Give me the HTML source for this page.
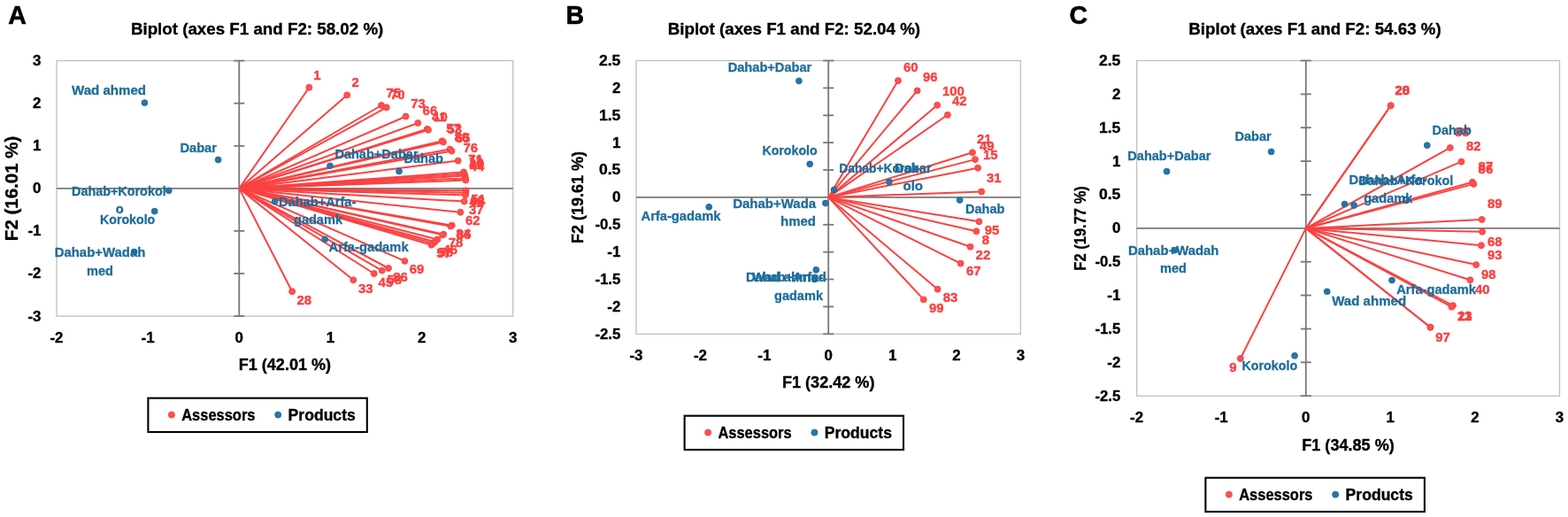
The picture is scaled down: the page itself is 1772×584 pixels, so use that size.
<!DOCTYPE html>
<html lang="en"><head><meta charset="utf-8"><title>Biplots</title>
<style>html,body{margin:0;padding:0;background:#fff}body{width:1772px;height:584px;overflow:hidden}svg{display:block}text{font-family:'Liberation Sans', sans-serif;font-weight:bold}</style>
</head><body>
<svg width="1772" height="584" viewBox="0 0 1772 584">
<rect width="1772" height="584" fill="#fff"/>
<g>
<text x="9.2" y="26.7" font-size="29.0" fill="#000" stroke="#000" stroke-width="0.6" text-anchor="start" textLength="20.6" lengthAdjust="spacingAndGlyphs">A</text>
<text x="290.6" y="38.6" font-size="18.9" fill="#000" stroke="#000" stroke-width="0.35" text-anchor="middle" textLength="285.4" lengthAdjust="spacingAndGlyphs">Biplot (axes F1 and F2: 58.02 %)</text>
<rect x="64.0" y="68.6" width="515.7" height="288.5" fill="#fff" stroke="#bfbfbf" stroke-width="1.3"/>
<g stroke="#787878" stroke-width="1.8" fill="none">
<line x1="64.0" y1="212.9" x2="579.7" y2="212.9"/>
<line x1="270.3" y1="68.6" x2="270.3" y2="357.1"/>
<line x1="264.3" y1="68.6" x2="276.3" y2="68.6"/>
<line x1="264.3" y1="116.7" x2="276.3" y2="116.7"/>
<line x1="264.3" y1="164.8" x2="276.3" y2="164.8"/>
<line x1="264.3" y1="260.9" x2="276.3" y2="260.9"/>
<line x1="264.3" y1="309.0" x2="276.3" y2="309.0"/>
<line x1="264.3" y1="357.1" x2="276.3" y2="357.1"/>
</g>
<text x="46.4" y="74.0" font-size="16.4" fill="#000" stroke="#000" stroke-width="0.35" text-anchor="end" textLength="9.4" lengthAdjust="spacingAndGlyphs">3</text>
<text x="46.4" y="122.1" font-size="16.4" fill="#000" stroke="#000" stroke-width="0.35" text-anchor="end" textLength="9.4" lengthAdjust="spacingAndGlyphs">2</text>
<text x="46.4" y="170.2" font-size="16.4" fill="#000" stroke="#000" stroke-width="0.35" text-anchor="end" textLength="9.4" lengthAdjust="spacingAndGlyphs">1</text>
<text x="46.4" y="218.3" font-size="16.4" fill="#000" stroke="#000" stroke-width="0.35" text-anchor="end" textLength="9.4" lengthAdjust="spacingAndGlyphs">0</text>
<text x="46.4" y="266.3" font-size="16.4" fill="#000" stroke="#000" stroke-width="0.35" text-anchor="end" textLength="15.0" lengthAdjust="spacingAndGlyphs">-1</text>
<text x="46.4" y="314.4" font-size="16.4" fill="#000" stroke="#000" stroke-width="0.35" text-anchor="end" textLength="15.0" lengthAdjust="spacingAndGlyphs">-2</text>
<text x="46.4" y="362.5" font-size="16.4" fill="#000" stroke="#000" stroke-width="0.35" text-anchor="end" textLength="15.0" lengthAdjust="spacingAndGlyphs">-3</text>
<text x="64.0" y="387.0" font-size="16.4" fill="#000" stroke="#000" stroke-width="0.35" text-anchor="middle" textLength="15.0" lengthAdjust="spacingAndGlyphs">-2</text>
<text x="167.1" y="387.0" font-size="16.4" fill="#000" stroke="#000" stroke-width="0.35" text-anchor="middle" textLength="15.0" lengthAdjust="spacingAndGlyphs">-1</text>
<text x="270.3" y="387.0" font-size="16.4" fill="#000" stroke="#000" stroke-width="0.35" text-anchor="middle" textLength="9.4" lengthAdjust="spacingAndGlyphs">0</text>
<text x="373.4" y="387.0" font-size="16.4" fill="#000" stroke="#000" stroke-width="0.35" text-anchor="middle" textLength="9.4" lengthAdjust="spacingAndGlyphs">1</text>
<text x="476.6" y="387.0" font-size="16.4" fill="#000" stroke="#000" stroke-width="0.35" text-anchor="middle" textLength="9.4" lengthAdjust="spacingAndGlyphs">2</text>
<text x="579.7" y="387.0" font-size="16.4" fill="#000" stroke="#000" stroke-width="0.35" text-anchor="middle" textLength="9.4" lengthAdjust="spacingAndGlyphs">3</text>
<text x="321.9" y="418.3" font-size="18.2" fill="#000" stroke="#000" stroke-width="0.35" text-anchor="middle" textLength="104.5" lengthAdjust="spacingAndGlyphs">F1 (42.01 %)</text>
<text x="19.8" y="212.9" font-size="19.6" fill="#000" stroke="#000" stroke-width="0.35" text-anchor="middle" textLength="118.5" lengthAdjust="spacingAndGlyphs" transform="rotate(-90 19.8 212.9)">F2 (16.01 %)</text>
<g stroke="#fb4242" stroke-width="2.0" stroke-linecap="round">
<line x1="270.3" y1="212.9" x2="349.4" y2="98.8"/>
<line x1="270.3" y1="212.9" x2="392.2" y2="107.4"/>
<line x1="270.3" y1="212.9" x2="431.0" y2="119.0"/>
<line x1="270.3" y1="212.9" x2="436.8" y2="121.4"/>
<line x1="270.3" y1="212.9" x2="458.6" y2="131.5"/>
<line x1="270.3" y1="212.9" x2="472.3" y2="139.0"/>
<line x1="270.3" y1="212.9" x2="482.8" y2="145.8"/>
<line x1="270.3" y1="212.9" x2="484.0" y2="146.8"/>
<line x1="270.3" y1="212.9" x2="499.6" y2="159.3"/>
<line x1="270.3" y1="212.9" x2="501.0" y2="160.4"/>
<line x1="270.3" y1="212.9" x2="508.5" y2="168.6"/>
<line x1="270.3" y1="212.9" x2="510.5" y2="170.6"/>
<line x1="270.3" y1="212.9" x2="517.7" y2="181.6"/>
<line x1="270.3" y1="212.9" x2="524.0" y2="194.4"/>
<line x1="270.3" y1="212.9" x2="524.8" y2="196.6"/>
<line x1="270.3" y1="212.9" x2="525.4" y2="198.6"/>
<line x1="270.3" y1="212.9" x2="526.0" y2="201.4"/>
<line x1="270.3" y1="212.9" x2="526.4" y2="203.6"/>
<line x1="270.3" y1="212.9" x2="526.6" y2="215.3"/>
<line x1="270.3" y1="212.9" x2="526.4" y2="217.8"/>
<line x1="270.3" y1="212.9" x2="526.0" y2="220.4"/>
<line x1="270.3" y1="212.9" x2="524.7" y2="227.5"/>
<line x1="270.3" y1="212.9" x2="520.3" y2="239.8"/>
<line x1="270.3" y1="212.9" x2="510.8" y2="254.6"/>
<line x1="270.3" y1="212.9" x2="509.2" y2="255.6"/>
<line x1="270.3" y1="212.9" x2="501.2" y2="264.7"/>
<line x1="270.3" y1="212.9" x2="500.2" y2="265.4"/>
<line x1="270.3" y1="212.9" x2="494.4" y2="270.5"/>
<line x1="270.3" y1="212.9" x2="491.6" y2="273.3"/>
<line x1="270.3" y1="212.9" x2="489.4" y2="275.0"/>
<line x1="270.3" y1="212.9" x2="487.5" y2="276.7"/>
<line x1="270.3" y1="212.9" x2="457.4" y2="294.9"/>
<line x1="270.3" y1="212.9" x2="439.0" y2="303.0"/>
<line x1="270.3" y1="212.9" x2="431.7" y2="305.6"/>
<line x1="270.3" y1="212.9" x2="422.7" y2="309.0"/>
<line x1="270.3" y1="212.9" x2="399.3" y2="316.3"/>
<line x1="270.3" y1="212.9" x2="330.1" y2="329.3"/>
</g>
<g fill="#fd5050" stroke="#fb4242" stroke-width="1">
<circle cx="349.4" cy="98.8" r="3.45"/>
<circle cx="392.2" cy="107.4" r="3.45"/>
<circle cx="431.0" cy="119.0" r="3.45"/>
<circle cx="436.8" cy="121.4" r="3.45"/>
<circle cx="458.6" cy="131.5" r="3.45"/>
<circle cx="472.3" cy="139.0" r="3.45"/>
<circle cx="482.8" cy="145.8" r="3.45"/>
<circle cx="484.0" cy="146.8" r="3.45"/>
<circle cx="499.6" cy="159.3" r="3.45"/>
<circle cx="501.0" cy="160.4" r="3.45"/>
<circle cx="508.5" cy="168.6" r="3.45"/>
<circle cx="510.5" cy="170.6" r="3.45"/>
<circle cx="517.7" cy="181.6" r="3.45"/>
<circle cx="524.0" cy="194.4" r="3.45"/>
<circle cx="524.8" cy="196.6" r="3.45"/>
<circle cx="525.4" cy="198.6" r="3.45"/>
<circle cx="526.0" cy="201.4" r="3.45"/>
<circle cx="526.4" cy="203.6" r="3.45"/>
<circle cx="526.6" cy="215.3" r="3.45"/>
<circle cx="526.4" cy="217.8" r="3.45"/>
<circle cx="526.0" cy="220.4" r="3.45"/>
<circle cx="524.7" cy="227.5" r="3.45"/>
<circle cx="520.3" cy="239.8" r="3.45"/>
<circle cx="510.8" cy="254.6" r="3.45"/>
<circle cx="509.2" cy="255.6" r="3.45"/>
<circle cx="501.2" cy="264.7" r="3.45"/>
<circle cx="500.2" cy="265.4" r="3.45"/>
<circle cx="494.4" cy="270.5" r="3.45"/>
<circle cx="491.6" cy="273.3" r="3.45"/>
<circle cx="489.4" cy="275.0" r="3.45"/>
<circle cx="487.5" cy="276.7" r="3.45"/>
<circle cx="457.4" cy="294.9" r="3.45"/>
<circle cx="439.0" cy="303.0" r="3.45"/>
<circle cx="431.7" cy="305.6" r="3.45"/>
<circle cx="422.7" cy="309.0" r="3.45"/>
<circle cx="399.3" cy="316.3" r="3.45"/>
<circle cx="330.1" cy="329.3" r="3.45"/>
</g>
<g fill="#2776a8" stroke="#1e6c99" stroke-width="1">
<circle cx="163.4" cy="116.1" r="3.4"/>
<circle cx="246.6" cy="180.5" r="3.4"/>
<circle cx="190.8" cy="215.3" r="3.4"/>
<circle cx="174.7" cy="238.6" r="3.4"/>
<circle cx="151.7" cy="284.5" r="3.4"/>
<circle cx="373.0" cy="187.3" r="3.4"/>
<circle cx="451.0" cy="193.5" r="3.4"/>
<circle cx="310.6" cy="227.7" r="3.4"/>
<circle cx="367.1" cy="270.4" r="3.4"/>
</g>
<text x="354.3" y="89.6" font-size="15.2" fill="#fc3f3f" stroke="#fc3f3f" stroke-width="0.4" text-anchor="start" textLength="8.3" lengthAdjust="spacingAndGlyphs">1</text>
<text x="397.6" y="98.1" font-size="15.2" fill="#fc3f3f" stroke="#fc3f3f" stroke-width="0.4" text-anchor="start" textLength="8.3" lengthAdjust="spacingAndGlyphs">2</text>
<text x="436.5" y="110.4" font-size="15.2" fill="#fc3f3f" stroke="#fc3f3f" stroke-width="0.4" text-anchor="start" textLength="16.6" lengthAdjust="spacingAndGlyphs">75</text>
<text x="441.0" y="112.1" font-size="15.2" fill="#fc3f3f" stroke="#fc3f3f" stroke-width="0.4" text-anchor="start" textLength="16.6" lengthAdjust="spacingAndGlyphs">70</text>
<text x="464.2" y="122.4" font-size="15.2" fill="#fc3f3f" stroke="#fc3f3f" stroke-width="0.4" text-anchor="start" textLength="16.6" lengthAdjust="spacingAndGlyphs">73</text>
<text x="477.6" y="129.7" font-size="15.2" fill="#fc3f3f" stroke="#fc3f3f" stroke-width="0.4" text-anchor="start" textLength="16.6" lengthAdjust="spacingAndGlyphs">66</text>
<text x="488.0" y="137.1" font-size="15.2" fill="#fc3f3f" stroke="#fc3f3f" stroke-width="0.4" text-anchor="start" textLength="16.6" lengthAdjust="spacingAndGlyphs">41</text>
<text x="489.3" y="137.4" font-size="15.2" fill="#fc3f3f" stroke="#fc3f3f" stroke-width="0.4" text-anchor="start" textLength="16.6" lengthAdjust="spacingAndGlyphs">10</text>
<text x="504.2" y="149.7" font-size="15.2" fill="#fc3f3f" stroke="#fc3f3f" stroke-width="0.4" text-anchor="start" textLength="16.6" lengthAdjust="spacingAndGlyphs">57</text>
<text x="505.4" y="150.8" font-size="15.2" fill="#fc3f3f" stroke="#fc3f3f" stroke-width="0.4" text-anchor="start" textLength="16.6" lengthAdjust="spacingAndGlyphs">53</text>
<text x="513.4" y="159.7" font-size="15.2" fill="#fc3f3f" stroke="#fc3f3f" stroke-width="0.4" text-anchor="start" textLength="16.6" lengthAdjust="spacingAndGlyphs">80</text>
<text x="514.8" y="161.4" font-size="15.2" fill="#fc3f3f" stroke="#fc3f3f" stroke-width="0.4" text-anchor="start" textLength="16.6" lengthAdjust="spacingAndGlyphs">65</text>
<text x="523.4" y="172.0" font-size="15.2" fill="#fc3f3f" stroke="#fc3f3f" stroke-width="0.4" text-anchor="start" textLength="16.6" lengthAdjust="spacingAndGlyphs">76</text>
<text x="529.2" y="184.6" font-size="15.2" fill="#fc3f3f" stroke="#fc3f3f" stroke-width="0.4" text-anchor="start" textLength="16.6" lengthAdjust="spacingAndGlyphs">71</text>
<text x="529.8" y="186.6" font-size="15.2" fill="#fc3f3f" stroke="#fc3f3f" stroke-width="0.4" text-anchor="start" textLength="16.6" lengthAdjust="spacingAndGlyphs">11</text>
<text x="530.2" y="188.8" font-size="15.2" fill="#fc3f3f" stroke="#fc3f3f" stroke-width="0.4" text-anchor="start" textLength="16.6" lengthAdjust="spacingAndGlyphs">19</text>
<text x="530.6" y="190.8" font-size="15.2" fill="#fc3f3f" stroke="#fc3f3f" stroke-width="0.4" text-anchor="start" textLength="16.6" lengthAdjust="spacingAndGlyphs">49</text>
<text x="530.8" y="193.0" font-size="15.2" fill="#fc3f3f" stroke="#fc3f3f" stroke-width="0.4" text-anchor="start" textLength="16.6" lengthAdjust="spacingAndGlyphs">44</text>
<text x="532.2" y="229.8" font-size="15.2" fill="#fc3f3f" stroke="#fc3f3f" stroke-width="0.4" text-anchor="start" textLength="16.6" lengthAdjust="spacingAndGlyphs">51</text>
<text x="531.2" y="231.6" font-size="15.2" fill="#fc3f3f" stroke="#fc3f3f" stroke-width="0.4" text-anchor="start" textLength="16.6" lengthAdjust="spacingAndGlyphs">68</text>
<text x="530.6" y="232.8" font-size="15.2" fill="#fc3f3f" stroke="#fc3f3f" stroke-width="0.4" text-anchor="start" textLength="16.6" lengthAdjust="spacingAndGlyphs">48</text>
<text x="530.0" y="241.9" font-size="15.2" fill="#fc3f3f" stroke="#fc3f3f" stroke-width="0.4" text-anchor="start" textLength="16.6" lengthAdjust="spacingAndGlyphs">37</text>
<text x="526.0" y="254.3" font-size="15.2" fill="#fc3f3f" stroke="#fc3f3f" stroke-width="0.4" text-anchor="start" textLength="16.6" lengthAdjust="spacingAndGlyphs">62</text>
<text x="515.2" y="268.6" font-size="15.2" fill="#fc3f3f" stroke="#fc3f3f" stroke-width="0.4" text-anchor="start" textLength="16.6" lengthAdjust="spacingAndGlyphs">84</text>
<text x="516.0" y="270.0" font-size="15.2" fill="#fc3f3f" stroke="#fc3f3f" stroke-width="0.4" text-anchor="start" textLength="16.6" lengthAdjust="spacingAndGlyphs">85</text>
<text x="506.8" y="278.8" font-size="15.2" fill="#fc3f3f" stroke="#fc3f3f" stroke-width="0.4" text-anchor="start" textLength="16.6" lengthAdjust="spacingAndGlyphs">78</text>
<text x="500.5" y="287.0" font-size="15.2" fill="#fc3f3f" stroke="#fc3f3f" stroke-width="0.4" text-anchor="start" textLength="16.6" lengthAdjust="spacingAndGlyphs">46</text>
<text x="495.5" y="289.5" font-size="15.2" fill="#fc3f3f" stroke="#fc3f3f" stroke-width="0.4" text-anchor="start" textLength="16.6" lengthAdjust="spacingAndGlyphs">56</text>
<text x="493.2" y="291.1" font-size="15.2" fill="#fc3f3f" stroke="#fc3f3f" stroke-width="0.4" text-anchor="start" textLength="16.6" lengthAdjust="spacingAndGlyphs">57</text>
<text x="462.8" y="309.4" font-size="15.2" fill="#fc3f3f" stroke="#fc3f3f" stroke-width="0.4" text-anchor="start" textLength="16.6" lengthAdjust="spacingAndGlyphs">69</text>
<text x="444.3" y="317.5" font-size="15.2" fill="#fc3f3f" stroke="#fc3f3f" stroke-width="0.4" text-anchor="start" textLength="16.6" lengthAdjust="spacingAndGlyphs">86</text>
<text x="437.5" y="320.5" font-size="15.2" fill="#fc3f3f" stroke="#fc3f3f" stroke-width="0.4" text-anchor="start" textLength="16.6" lengthAdjust="spacingAndGlyphs">58</text>
<text x="427.6" y="323.5" font-size="15.2" fill="#fc3f3f" stroke="#fc3f3f" stroke-width="0.4" text-anchor="start" textLength="16.6" lengthAdjust="spacingAndGlyphs">45</text>
<text x="405.0" y="331.0" font-size="15.2" fill="#fc3f3f" stroke="#fc3f3f" stroke-width="0.4" text-anchor="start" textLength="16.6" lengthAdjust="spacingAndGlyphs">33</text>
<text x="335.5" y="343.8" font-size="15.2" fill="#fc3f3f" stroke="#fc3f3f" stroke-width="0.4" text-anchor="start" textLength="16.6" lengthAdjust="spacingAndGlyphs">28</text>
<text x="81.0" y="106.6" font-size="15.0" fill="#1e6c99" stroke="#1e6c99" stroke-width="0.3" text-anchor="start" textLength="84.0" lengthAdjust="spacingAndGlyphs">Wad ahmed</text>
<text x="203.4" y="171.6" font-size="15.0" fill="#1e6c99" stroke="#1e6c99" stroke-width="0.3" text-anchor="start" textLength="41.6" lengthAdjust="spacingAndGlyphs">Dabar</text>
<text x="81.0" y="220.6" font-size="15.0" fill="#1e6c99" stroke="#1e6c99" stroke-width="0.3" text-anchor="start" textLength="106.7" lengthAdjust="spacingAndGlyphs">Dahab+Korokol</text>
<text x="130.8" y="240.7" font-size="15.0" fill="#1e6c99" stroke="#1e6c99" stroke-width="0.3" text-anchor="start" textLength="9.0" lengthAdjust="spacingAndGlyphs">o</text>
<text x="113.0" y="253.1" font-size="15.0" fill="#1e6c99" stroke="#1e6c99" stroke-width="0.3" text-anchor="start" textLength="62.3" lengthAdjust="spacingAndGlyphs">Korokolo</text>
<text x="61.7" y="289.6" font-size="15.0" fill="#1e6c99" stroke="#1e6c99" stroke-width="0.3" text-anchor="start" textLength="102.6" lengthAdjust="spacingAndGlyphs">Dahab+Wadah</text>
<text x="98.0" y="310.7" font-size="15.0" fill="#1e6c99" stroke="#1e6c99" stroke-width="0.3" text-anchor="start" textLength="30.0" lengthAdjust="spacingAndGlyphs">med</text>
<text x="378.4" y="178.5" font-size="15.0" fill="#1e6c99" stroke="#1e6c99" stroke-width="0.3" text-anchor="start" textLength="94.2" lengthAdjust="spacingAndGlyphs">Dahab+Dabar</text>
<text x="456.5" y="184.3" font-size="15.0" fill="#1e6c99" stroke="#1e6c99" stroke-width="0.3" text-anchor="start" textLength="44.5" lengthAdjust="spacingAndGlyphs">Dahab</text>
<text x="315.0" y="232.6" font-size="15.0" fill="#1e6c99" stroke="#1e6c99" stroke-width="0.3" text-anchor="start" textLength="87.3" lengthAdjust="spacingAndGlyphs">Dahab+Arfa-</text>
<text x="332.0" y="253.1" font-size="15.0" fill="#1e6c99" stroke="#1e6c99" stroke-width="0.3" text-anchor="start" textLength="55.0" lengthAdjust="spacingAndGlyphs">gadamk</text>
<text x="371.6" y="283.9" font-size="15.0" fill="#1e6c99" stroke="#1e6c99" stroke-width="0.3" text-anchor="start" textLength="90.0" lengthAdjust="spacingAndGlyphs">Arfa-gadamk</text>
<rect x="167.4" y="449.7" width="247.4" height="38.3" fill="#fff" stroke="#000" stroke-width="2.1"/>
<circle cx="193.9" cy="468.6" r="3.5" fill="#fd5050" stroke="#fb4242" stroke-width="1"/>
<text x="205.2" y="474.8" font-size="18.4" fill="#000" stroke="#000" stroke-width="0.35" text-anchor="start" textLength="83.3" lengthAdjust="spacingAndGlyphs">Assessors</text>
<circle cx="314.2" cy="468.6" r="3.5" fill="#2776a8" stroke="#1e6c99" stroke-width="1"/>
<text x="325.6" y="474.8" font-size="18.4" fill="#000" stroke="#000" stroke-width="0.35" text-anchor="start" textLength="76.2" lengthAdjust="spacingAndGlyphs">Products</text>
</g>
<g>
<text x="639.6" y="26.7" font-size="29.0" fill="#000" stroke="#000" stroke-width="0.6" text-anchor="start" textLength="20.6" lengthAdjust="spacingAndGlyphs">B</text>
<text x="897.4" y="38.6" font-size="18.9" fill="#000" stroke="#000" stroke-width="0.35" text-anchor="middle" textLength="285.4" lengthAdjust="spacingAndGlyphs">Biplot (axes F1 and F2: 52.04 %)</text>
<rect x="719.0" y="68.5" width="434.4" height="308.8" fill="#fff" stroke="#bfbfbf" stroke-width="1.3"/>
<g stroke="#787878" stroke-width="1.8" fill="none">
<line x1="719.0" y1="222.9" x2="1153.4" y2="222.9"/>
<line x1="936.2" y1="68.5" x2="936.2" y2="377.3"/>
<line x1="930.2" y1="68.5" x2="942.2" y2="68.5"/>
<line x1="930.2" y1="99.4" x2="942.2" y2="99.4"/>
<line x1="930.2" y1="130.3" x2="942.2" y2="130.3"/>
<line x1="930.2" y1="161.1" x2="942.2" y2="161.1"/>
<line x1="930.2" y1="192.0" x2="942.2" y2="192.0"/>
<line x1="930.2" y1="253.8" x2="942.2" y2="253.8"/>
<line x1="930.2" y1="284.7" x2="942.2" y2="284.7"/>
<line x1="930.2" y1="315.5" x2="942.2" y2="315.5"/>
<line x1="930.2" y1="346.4" x2="942.2" y2="346.4"/>
<line x1="930.2" y1="377.3" x2="942.2" y2="377.3"/>
</g>
<text x="701.3" y="73.9" font-size="16.4" fill="#000" stroke="#000" stroke-width="0.35" text-anchor="end" textLength="24.4" lengthAdjust="spacingAndGlyphs">2.5</text>
<text x="701.3" y="104.8" font-size="16.4" fill="#000" stroke="#000" stroke-width="0.35" text-anchor="end" textLength="9.4" lengthAdjust="spacingAndGlyphs">2</text>
<text x="701.3" y="135.7" font-size="16.4" fill="#000" stroke="#000" stroke-width="0.35" text-anchor="end" textLength="24.4" lengthAdjust="spacingAndGlyphs">1.5</text>
<text x="701.3" y="166.5" font-size="16.4" fill="#000" stroke="#000" stroke-width="0.35" text-anchor="end" textLength="9.4" lengthAdjust="spacingAndGlyphs">1</text>
<text x="701.3" y="197.4" font-size="16.4" fill="#000" stroke="#000" stroke-width="0.35" text-anchor="end" textLength="24.4" lengthAdjust="spacingAndGlyphs">0.5</text>
<text x="701.3" y="228.3" font-size="16.4" fill="#000" stroke="#000" stroke-width="0.35" text-anchor="end" textLength="9.4" lengthAdjust="spacingAndGlyphs">0</text>
<text x="701.3" y="259.2" font-size="16.4" fill="#000" stroke="#000" stroke-width="0.35" text-anchor="end" textLength="28.8" lengthAdjust="spacingAndGlyphs">-0.5</text>
<text x="701.3" y="290.1" font-size="16.4" fill="#000" stroke="#000" stroke-width="0.35" text-anchor="end" textLength="15.0" lengthAdjust="spacingAndGlyphs">-1</text>
<text x="701.3" y="320.9" font-size="16.4" fill="#000" stroke="#000" stroke-width="0.35" text-anchor="end" textLength="28.8" lengthAdjust="spacingAndGlyphs">-1.5</text>
<text x="701.3" y="351.8" font-size="16.4" fill="#000" stroke="#000" stroke-width="0.35" text-anchor="end" textLength="15.0" lengthAdjust="spacingAndGlyphs">-2</text>
<text x="701.3" y="382.7" font-size="16.4" fill="#000" stroke="#000" stroke-width="0.35" text-anchor="end" textLength="28.8" lengthAdjust="spacingAndGlyphs">-2.5</text>
<text x="719.0" y="407.0" font-size="16.4" fill="#000" stroke="#000" stroke-width="0.35" text-anchor="middle" textLength="15.0" lengthAdjust="spacingAndGlyphs">-3</text>
<text x="791.4" y="407.0" font-size="16.4" fill="#000" stroke="#000" stroke-width="0.35" text-anchor="middle" textLength="15.0" lengthAdjust="spacingAndGlyphs">-2</text>
<text x="863.8" y="407.0" font-size="16.4" fill="#000" stroke="#000" stroke-width="0.35" text-anchor="middle" textLength="15.0" lengthAdjust="spacingAndGlyphs">-1</text>
<text x="936.2" y="407.0" font-size="16.4" fill="#000" stroke="#000" stroke-width="0.35" text-anchor="middle" textLength="9.4" lengthAdjust="spacingAndGlyphs">0</text>
<text x="1008.6" y="407.0" font-size="16.4" fill="#000" stroke="#000" stroke-width="0.35" text-anchor="middle" textLength="9.4" lengthAdjust="spacingAndGlyphs">1</text>
<text x="1081.0" y="407.0" font-size="16.4" fill="#000" stroke="#000" stroke-width="0.35" text-anchor="middle" textLength="9.4" lengthAdjust="spacingAndGlyphs">2</text>
<text x="1153.4" y="407.0" font-size="16.4" fill="#000" stroke="#000" stroke-width="0.35" text-anchor="middle" textLength="9.4" lengthAdjust="spacingAndGlyphs">3</text>
<text x="936.2" y="438.4" font-size="18.2" fill="#000" stroke="#000" stroke-width="0.35" text-anchor="middle" textLength="104.5" lengthAdjust="spacingAndGlyphs">F1 (32.42 %)</text>
<text x="659.4" y="222.9" font-size="18.2" fill="#000" stroke="#000" stroke-width="0.35" text-anchor="middle" textLength="104.0" lengthAdjust="spacingAndGlyphs" transform="rotate(-90 659.4 222.9)">F2 (19.61 %)</text>
<g stroke="#fb4242" stroke-width="2.0" stroke-linecap="round">
<line x1="936.2" y1="222.9" x2="1015.0" y2="91.1"/>
<line x1="936.2" y1="222.9" x2="1036.6" y2="102.4"/>
<line x1="936.2" y1="222.9" x2="1059.2" y2="118.8"/>
<line x1="936.2" y1="222.9" x2="1070.9" y2="129.8"/>
<line x1="936.2" y1="222.9" x2="1099.0" y2="172.3"/>
<line x1="936.2" y1="222.9" x2="1102.0" y2="180.1"/>
<line x1="936.2" y1="222.9" x2="1105.1" y2="189.7"/>
<line x1="936.2" y1="222.9" x2="1109.2" y2="216.4"/>
<line x1="936.2" y1="222.9" x2="1106.5" y2="250.3"/>
<line x1="936.2" y1="222.9" x2="1103.4" y2="261.3"/>
<line x1="936.2" y1="222.9" x2="1096.6" y2="278.8"/>
<line x1="936.2" y1="222.9" x2="1085.6" y2="297.6"/>
<line x1="936.2" y1="222.9" x2="1059.6" y2="326.7"/>
<line x1="936.2" y1="222.9" x2="1043.8" y2="338.4"/>
</g>
<g fill="#fd5050" stroke="#fb4242" stroke-width="1">
<circle cx="1015.0" cy="91.1" r="3.45"/>
<circle cx="1036.6" cy="102.4" r="3.45"/>
<circle cx="1059.2" cy="118.8" r="3.45"/>
<circle cx="1070.9" cy="129.8" r="3.45"/>
<circle cx="1099.0" cy="172.3" r="3.45"/>
<circle cx="1102.0" cy="180.1" r="3.45"/>
<circle cx="1105.1" cy="189.7" r="3.45"/>
<circle cx="1109.2" cy="216.4" r="3.45"/>
<circle cx="1106.5" cy="250.3" r="3.45"/>
<circle cx="1103.4" cy="261.3" r="3.45"/>
<circle cx="1096.6" cy="278.8" r="3.45"/>
<circle cx="1085.6" cy="297.6" r="3.45"/>
<circle cx="1059.6" cy="326.7" r="3.45"/>
<circle cx="1043.8" cy="338.4" r="3.45"/>
</g>
<g fill="#2776a8" stroke="#1e6c99" stroke-width="1">
<circle cx="902.9" cy="91.4" r="3.4"/>
<circle cx="915.2" cy="185.3" r="3.4"/>
<circle cx="942.5" cy="214.4" r="3.4"/>
<circle cx="1004.8" cy="205.5" r="3.4"/>
<circle cx="932.9" cy="229.5" r="3.4"/>
<circle cx="801.2" cy="233.8" r="3.4"/>
<circle cx="922.3" cy="304.8" r="3.4"/>
<circle cx="920.5" cy="315.5" r="3.4"/>
<circle cx="1084.6" cy="226.0" r="3.4"/>
</g>
<text x="1021.0" y="81.1" font-size="15.2" fill="#fc3f3f" stroke="#fc3f3f" stroke-width="0.4" text-anchor="start" textLength="16.6" lengthAdjust="spacingAndGlyphs">60</text>
<text x="1043.0" y="92.1" font-size="15.2" fill="#fc3f3f" stroke="#fc3f3f" stroke-width="0.4" text-anchor="start" textLength="16.6" lengthAdjust="spacingAndGlyphs">96</text>
<text x="1065.0" y="108.1" font-size="15.2" fill="#fc3f3f" stroke="#fc3f3f" stroke-width="0.4" text-anchor="start" textLength="24.9" lengthAdjust="spacingAndGlyphs">100</text>
<text x="1076.0" y="119.1" font-size="15.2" fill="#fc3f3f" stroke="#fc3f3f" stroke-width="0.4" text-anchor="start" textLength="16.6" lengthAdjust="spacingAndGlyphs">42</text>
<text x="1104.0" y="162.1" font-size="15.2" fill="#fc3f3f" stroke="#fc3f3f" stroke-width="0.4" text-anchor="start" textLength="16.6" lengthAdjust="spacingAndGlyphs">21</text>
<text x="1107.0" y="170.1" font-size="15.2" fill="#fc3f3f" stroke="#fc3f3f" stroke-width="0.4" text-anchor="start" textLength="16.6" lengthAdjust="spacingAndGlyphs">49</text>
<text x="1111.0" y="180.1" font-size="15.2" fill="#fc3f3f" stroke="#fc3f3f" stroke-width="0.4" text-anchor="start" textLength="16.6" lengthAdjust="spacingAndGlyphs">15</text>
<text x="1115.0" y="206.1" font-size="15.2" fill="#fc3f3f" stroke="#fc3f3f" stroke-width="0.4" text-anchor="start" textLength="16.6" lengthAdjust="spacingAndGlyphs">31</text>
<text x="1112.8" y="264.6" font-size="15.2" fill="#fc3f3f" stroke="#fc3f3f" stroke-width="0.4" text-anchor="start" textLength="16.6" lengthAdjust="spacingAndGlyphs">95</text>
<text x="1109.8" y="275.6" font-size="15.2" fill="#fc3f3f" stroke="#fc3f3f" stroke-width="0.4" text-anchor="start" textLength="8.3" lengthAdjust="spacingAndGlyphs">8</text>
<text x="1102.6" y="293.3" font-size="15.2" fill="#fc3f3f" stroke="#fc3f3f" stroke-width="0.4" text-anchor="start" textLength="16.6" lengthAdjust="spacingAndGlyphs">22</text>
<text x="1092.0" y="311.3" font-size="15.2" fill="#fc3f3f" stroke="#fc3f3f" stroke-width="0.4" text-anchor="start" textLength="16.6" lengthAdjust="spacingAndGlyphs">67</text>
<text x="1065.7" y="340.9" font-size="15.2" fill="#fc3f3f" stroke="#fc3f3f" stroke-width="0.4" text-anchor="start" textLength="16.6" lengthAdjust="spacingAndGlyphs">83</text>
<text x="1050.0" y="352.9" font-size="15.2" fill="#fc3f3f" stroke="#fc3f3f" stroke-width="0.4" text-anchor="start" textLength="16.6" lengthAdjust="spacingAndGlyphs">99</text>
<text x="822.7" y="80.9" font-size="15.0" fill="#1e6c99" stroke="#1e6c99" stroke-width="0.3" text-anchor="start" textLength="94.6" lengthAdjust="spacingAndGlyphs">Dahab+Dabar</text>
<text x="861.4" y="175.1" font-size="15.0" fill="#1e6c99" stroke="#1e6c99" stroke-width="0.3" text-anchor="start" textLength="62.3" lengthAdjust="spacingAndGlyphs">Korokolo</text>
<text x="948.3" y="194.6" font-size="15.0" fill="#1e6c99" stroke="#1e6c99" stroke-width="0.3" text-anchor="start" textLength="90.0" lengthAdjust="spacingAndGlyphs">Dahab+Korok</text>
<text x="1020.5" y="214.7" font-size="15.0" fill="#1e6c99" stroke="#1e6c99" stroke-width="0.3" text-anchor="start" textLength="22.5" lengthAdjust="spacingAndGlyphs">olo</text>
<text x="1011.0" y="194.6" font-size="15.0" fill="#1e6c99" stroke="#1e6c99" stroke-width="0.3" text-anchor="start" textLength="41.7" lengthAdjust="spacingAndGlyphs">Dabar</text>
<text x="828.2" y="234.9" font-size="15.0" fill="#1e6c99" stroke="#1e6c99" stroke-width="0.3" text-anchor="start" textLength="94.0" lengthAdjust="spacingAndGlyphs">Dahab+Wada</text>
<text x="882.0" y="254.8" font-size="15.0" fill="#1e6c99" stroke="#1e6c99" stroke-width="0.3" text-anchor="start" textLength="40.0" lengthAdjust="spacingAndGlyphs">hmed</text>
<text x="724.5" y="248.6" font-size="15.0" fill="#1e6c99" stroke="#1e6c99" stroke-width="0.3" text-anchor="start" textLength="90.0" lengthAdjust="spacingAndGlyphs">Arfa-gadamk</text>
<text x="843.0" y="317.6" font-size="15.0" fill="#1e6c99" stroke="#1e6c99" stroke-width="0.3" text-anchor="start" textLength="87.3" lengthAdjust="spacingAndGlyphs">Dahab+Arfa-</text>
<text x="875.0" y="339.3" font-size="15.0" fill="#1e6c99" stroke="#1e6c99" stroke-width="0.3" text-anchor="start" textLength="55.0" lengthAdjust="spacingAndGlyphs">gadamk</text>
<text x="850.3" y="318.1" font-size="15.0" fill="#1e6c99" stroke="#1e6c99" stroke-width="0.3" text-anchor="start" textLength="83.6" lengthAdjust="spacingAndGlyphs">Wad ahmed</text>
<text x="1091.0" y="240.6" font-size="15.0" fill="#1e6c99" stroke="#1e6c99" stroke-width="0.3" text-anchor="start" textLength="44.5" lengthAdjust="spacingAndGlyphs">Dahab</text>
<rect x="773.6" y="469.7" width="247.4" height="38.3" fill="#fff" stroke="#000" stroke-width="2.1"/>
<circle cx="800.1" cy="488.6" r="3.5" fill="#fd5050" stroke="#fb4242" stroke-width="1"/>
<text x="811.4" y="494.8" font-size="18.4" fill="#000" stroke="#000" stroke-width="0.35" text-anchor="start" textLength="83.3" lengthAdjust="spacingAndGlyphs">Assessors</text>
<circle cx="920.4" cy="488.6" r="3.5" fill="#2776a8" stroke="#1e6c99" stroke-width="1"/>
<text x="931.8" y="494.8" font-size="18.4" fill="#000" stroke="#000" stroke-width="0.35" text-anchor="start" textLength="76.2" lengthAdjust="spacingAndGlyphs">Products</text>
</g>
<g>
<text x="1208.6" y="26.7" font-size="29.0" fill="#000" stroke="#000" stroke-width="0.6" text-anchor="start" textLength="20.6" lengthAdjust="spacingAndGlyphs">C</text>
<text x="1486.0" y="38.6" font-size="18.9" fill="#000" stroke="#000" stroke-width="0.35" text-anchor="middle" textLength="285.4" lengthAdjust="spacingAndGlyphs">Biplot (axes F1 and F2: 54.63 %)</text>
<rect x="1284.6" y="68.5" width="477.9" height="378.7" fill="#fff" stroke="#bfbfbf" stroke-width="1.3"/>
<g stroke="#787878" stroke-width="1.8" fill="none">
<line x1="1284.6" y1="257.9" x2="1762.5" y2="257.9"/>
<line x1="1475.8" y1="68.5" x2="1475.8" y2="447.2"/>
<line x1="1469.8" y1="68.5" x2="1481.8" y2="68.5"/>
<line x1="1469.8" y1="106.4" x2="1481.8" y2="106.4"/>
<line x1="1469.8" y1="144.2" x2="1481.8" y2="144.2"/>
<line x1="1469.8" y1="182.1" x2="1481.8" y2="182.1"/>
<line x1="1469.8" y1="220.0" x2="1481.8" y2="220.0"/>
<line x1="1469.8" y1="295.7" x2="1481.8" y2="295.7"/>
<line x1="1469.8" y1="333.6" x2="1481.8" y2="333.6"/>
<line x1="1469.8" y1="371.5" x2="1481.8" y2="371.5"/>
<line x1="1469.8" y1="409.3" x2="1481.8" y2="409.3"/>
<line x1="1469.8" y1="447.2" x2="1481.8" y2="447.2"/>
</g>
<text x="1266.3" y="73.9" font-size="16.4" fill="#000" stroke="#000" stroke-width="0.35" text-anchor="end" textLength="24.4" lengthAdjust="spacingAndGlyphs">2.5</text>
<text x="1266.3" y="111.8" font-size="16.4" fill="#000" stroke="#000" stroke-width="0.35" text-anchor="end" textLength="9.4" lengthAdjust="spacingAndGlyphs">2</text>
<text x="1266.3" y="149.6" font-size="16.4" fill="#000" stroke="#000" stroke-width="0.35" text-anchor="end" textLength="24.4" lengthAdjust="spacingAndGlyphs">1.5</text>
<text x="1266.3" y="187.5" font-size="16.4" fill="#000" stroke="#000" stroke-width="0.35" text-anchor="end" textLength="9.4" lengthAdjust="spacingAndGlyphs">1</text>
<text x="1266.3" y="225.4" font-size="16.4" fill="#000" stroke="#000" stroke-width="0.35" text-anchor="end" textLength="24.4" lengthAdjust="spacingAndGlyphs">0.5</text>
<text x="1266.3" y="263.2" font-size="16.4" fill="#000" stroke="#000" stroke-width="0.35" text-anchor="end" textLength="9.4" lengthAdjust="spacingAndGlyphs">0</text>
<text x="1266.3" y="301.1" font-size="16.4" fill="#000" stroke="#000" stroke-width="0.35" text-anchor="end" textLength="28.8" lengthAdjust="spacingAndGlyphs">-0.5</text>
<text x="1266.3" y="339.0" font-size="16.4" fill="#000" stroke="#000" stroke-width="0.35" text-anchor="end" textLength="15.0" lengthAdjust="spacingAndGlyphs">-1</text>
<text x="1266.3" y="376.9" font-size="16.4" fill="#000" stroke="#000" stroke-width="0.35" text-anchor="end" textLength="28.8" lengthAdjust="spacingAndGlyphs">-1.5</text>
<text x="1266.3" y="414.7" font-size="16.4" fill="#000" stroke="#000" stroke-width="0.35" text-anchor="end" textLength="15.0" lengthAdjust="spacingAndGlyphs">-2</text>
<text x="1266.3" y="452.6" font-size="16.4" fill="#000" stroke="#000" stroke-width="0.35" text-anchor="end" textLength="28.8" lengthAdjust="spacingAndGlyphs">-2.5</text>
<text x="1284.6" y="477.0" font-size="16.4" fill="#000" stroke="#000" stroke-width="0.35" text-anchor="middle" textLength="15.0" lengthAdjust="spacingAndGlyphs">-2</text>
<text x="1380.2" y="477.0" font-size="16.4" fill="#000" stroke="#000" stroke-width="0.35" text-anchor="middle" textLength="15.0" lengthAdjust="spacingAndGlyphs">-1</text>
<text x="1475.8" y="477.0" font-size="16.4" fill="#000" stroke="#000" stroke-width="0.35" text-anchor="middle" textLength="9.4" lengthAdjust="spacingAndGlyphs">0</text>
<text x="1571.3" y="477.0" font-size="16.4" fill="#000" stroke="#000" stroke-width="0.35" text-anchor="middle" textLength="9.4" lengthAdjust="spacingAndGlyphs">1</text>
<text x="1666.9" y="477.0" font-size="16.4" fill="#000" stroke="#000" stroke-width="0.35" text-anchor="middle" textLength="9.4" lengthAdjust="spacingAndGlyphs">2</text>
<text x="1762.5" y="477.0" font-size="16.4" fill="#000" stroke="#000" stroke-width="0.35" text-anchor="middle" textLength="9.4" lengthAdjust="spacingAndGlyphs">3</text>
<text x="1523.5" y="508.5" font-size="18.2" fill="#000" stroke="#000" stroke-width="0.35" text-anchor="middle" textLength="104.5" lengthAdjust="spacingAndGlyphs">F1 (34.85 %)</text>
<text x="1226.6" y="257.9" font-size="17.8" fill="#000" stroke="#000" stroke-width="0.35" text-anchor="middle" textLength="95.5" lengthAdjust="spacingAndGlyphs" transform="rotate(-90 1226.6 257.9)">F2 (19.77 %)</text>
<g stroke="#fb4242" stroke-width="2.0" stroke-linecap="round">
<line x1="1475.8" y1="257.9" x2="1571.7" y2="119.3"/>
<line x1="1475.8" y1="257.9" x2="1571.7" y2="119.3"/>
<line x1="1475.8" y1="257.9" x2="1638.8" y2="166.9"/>
<line x1="1475.8" y1="257.9" x2="1651.5" y2="182.7"/>
<line x1="1475.8" y1="257.9" x2="1664.0" y2="205.8"/>
<line x1="1475.8" y1="257.9" x2="1665.4" y2="207.9"/>
<line x1="1475.8" y1="257.9" x2="1674.7" y2="248.0"/>
<line x1="1475.8" y1="257.9" x2="1675.1" y2="261.8"/>
<line x1="1475.8" y1="257.9" x2="1674.0" y2="277.2"/>
<line x1="1475.8" y1="257.9" x2="1668.2" y2="299.1"/>
<line x1="1475.8" y1="257.9" x2="1661.4" y2="316.3"/>
<line x1="1475.8" y1="257.9" x2="1642.0" y2="345.1"/>
<line x1="1475.8" y1="257.9" x2="1640.4" y2="346.7"/>
<line x1="1475.8" y1="257.9" x2="1616.5" y2="369.7"/>
<line x1="1475.8" y1="257.9" x2="1616.5" y2="369.7"/>
<line x1="1475.8" y1="257.9" x2="1401.8" y2="405.0"/>
</g>
<g fill="#fd5050" stroke="#fb4242" stroke-width="1">
<circle cx="1571.7" cy="119.3" r="3.45"/>
<circle cx="1571.7" cy="119.3" r="3.45"/>
<circle cx="1638.8" cy="166.9" r="3.45"/>
<circle cx="1651.5" cy="182.7" r="3.45"/>
<circle cx="1664.0" cy="205.8" r="3.45"/>
<circle cx="1665.4" cy="207.9" r="3.45"/>
<circle cx="1674.7" cy="248.0" r="3.45"/>
<circle cx="1675.1" cy="261.8" r="3.45"/>
<circle cx="1674.0" cy="277.2" r="3.45"/>
<circle cx="1668.2" cy="299.1" r="3.45"/>
<circle cx="1661.4" cy="316.3" r="3.45"/>
<circle cx="1642.0" cy="345.1" r="3.45"/>
<circle cx="1640.4" cy="346.7" r="3.45"/>
<circle cx="1616.5" cy="369.7" r="3.45"/>
<circle cx="1616.5" cy="369.7" r="3.45"/>
<circle cx="1401.8" cy="405.0" r="3.45"/>
</g>
<g fill="#2776a8" stroke="#1e6c99" stroke-width="1">
<circle cx="1318.5" cy="193.7" r="3.4"/>
<circle cx="1436.6" cy="171.4" r="3.4"/>
<circle cx="1612.8" cy="164.2" r="3.4"/>
<circle cx="1519.6" cy="230.6" r="3.4"/>
<circle cx="1530.2" cy="232.0" r="3.4"/>
<circle cx="1327.4" cy="282.7" r="3.4"/>
<circle cx="1573.0" cy="316.6" r="3.4"/>
<circle cx="1499.7" cy="329.3" r="3.4"/>
<circle cx="1463.1" cy="401.8" r="3.4"/>
</g>
<text x="1576.5" y="106.7" font-size="15.2" fill="#fc3f3f" stroke="#fc3f3f" stroke-width="0.4" text-anchor="start" textLength="16.6" lengthAdjust="spacingAndGlyphs">20</text>
<text x="1576.5" y="106.7" font-size="15.2" fill="#fc3f3f" stroke="#fc3f3f" stroke-width="0.4" text-anchor="start" textLength="16.6" lengthAdjust="spacingAndGlyphs">28</text>
<text x="1644.0" y="154.0" font-size="15.2" fill="#fc3f3f" stroke="#fc3f3f" stroke-width="0.4" text-anchor="start" textLength="16.6" lengthAdjust="spacingAndGlyphs">88</text>
<text x="1657.0" y="170.2" font-size="15.2" fill="#fc3f3f" stroke="#fc3f3f" stroke-width="0.4" text-anchor="start" textLength="16.6" lengthAdjust="spacingAndGlyphs">82</text>
<text x="1670.6" y="193.2" font-size="15.2" fill="#fc3f3f" stroke="#fc3f3f" stroke-width="0.4" text-anchor="start" textLength="16.6" lengthAdjust="spacingAndGlyphs">87</text>
<text x="1670.6" y="196.4" font-size="15.2" fill="#fc3f3f" stroke="#fc3f3f" stroke-width="0.4" text-anchor="start" textLength="16.6" lengthAdjust="spacingAndGlyphs">86</text>
<text x="1681.0" y="235.2" font-size="15.2" fill="#fc3f3f" stroke="#fc3f3f" stroke-width="0.4" text-anchor="start" textLength="16.6" lengthAdjust="spacingAndGlyphs">89</text>
<text x="1681.0" y="278.2" font-size="15.2" fill="#fc3f3f" stroke="#fc3f3f" stroke-width="0.4" text-anchor="start" textLength="16.6" lengthAdjust="spacingAndGlyphs">68</text>
<text x="1681.0" y="292.7" font-size="15.2" fill="#fc3f3f" stroke="#fc3f3f" stroke-width="0.4" text-anchor="start" textLength="16.6" lengthAdjust="spacingAndGlyphs">93</text>
<text x="1674.0" y="314.9" font-size="15.2" fill="#fc3f3f" stroke="#fc3f3f" stroke-width="0.4" text-anchor="start" textLength="16.6" lengthAdjust="spacingAndGlyphs">98</text>
<text x="1667.0" y="332.0" font-size="15.2" fill="#fc3f3f" stroke="#fc3f3f" stroke-width="0.4" text-anchor="start" textLength="16.6" lengthAdjust="spacingAndGlyphs">40</text>
<text x="1646.7" y="362.2" font-size="15.2" fill="#fc3f3f" stroke="#fc3f3f" stroke-width="0.4" text-anchor="start" textLength="16.6" lengthAdjust="spacingAndGlyphs">11</text>
<text x="1647.2" y="362.2" font-size="15.2" fill="#fc3f3f" stroke="#fc3f3f" stroke-width="0.4" text-anchor="start" textLength="16.6" lengthAdjust="spacingAndGlyphs">23</text>
<text x="1622.2" y="386.4" font-size="15.2" fill="#fc3f3f" stroke="#fc3f3f" stroke-width="0.4" text-anchor="start" textLength="16.6" lengthAdjust="spacingAndGlyphs">97</text>
<text x="1389.2" y="420.2" font-size="15.2" fill="#fc3f3f" stroke="#fc3f3f" stroke-width="0.4" text-anchor="start" textLength="8.3" lengthAdjust="spacingAndGlyphs">9</text>
<text x="1274.3" y="181.3" font-size="15.0" fill="#1e6c99" stroke="#1e6c99" stroke-width="0.3" text-anchor="start" textLength="94.2" lengthAdjust="spacingAndGlyphs">Dahab+Dabar</text>
<text x="1395.5" y="159.4" font-size="15.0" fill="#1e6c99" stroke="#1e6c99" stroke-width="0.3" text-anchor="start" textLength="41.1" lengthAdjust="spacingAndGlyphs">Dabar</text>
<text x="1618.6" y="151.7" font-size="15.0" fill="#1e6c99" stroke="#1e6c99" stroke-width="0.3" text-anchor="start" textLength="44.2" lengthAdjust="spacingAndGlyphs">Dahab</text>
<text x="1524.6" y="208.3" font-size="15.0" fill="#1e6c99" stroke="#1e6c99" stroke-width="0.3" text-anchor="start" textLength="88.0" lengthAdjust="spacingAndGlyphs">Dahab+Arfa-</text>
<text x="1541.2" y="228.7" font-size="15.0" fill="#1e6c99" stroke="#1e6c99" stroke-width="0.3" text-anchor="start" textLength="55.2" lengthAdjust="spacingAndGlyphs">gadamk</text>
<text x="1535.4" y="209.4" font-size="15.0" fill="#1e6c99" stroke="#1e6c99" stroke-width="0.3" text-anchor="start" textLength="107.0" lengthAdjust="spacingAndGlyphs">Dahab+Korokol</text>
<text x="1584.8" y="230.1" font-size="15.0" fill="#1e6c99" stroke="#1e6c99" stroke-width="0.3" text-anchor="start" textLength="9.0" lengthAdjust="spacingAndGlyphs">o</text>
<text x="1275.0" y="288.1" font-size="15.0" fill="#1e6c99" stroke="#1e6c99" stroke-width="0.3" text-anchor="start" textLength="102.4" lengthAdjust="spacingAndGlyphs">Dahab+Wadah</text>
<text x="1311.0" y="308.0" font-size="15.0" fill="#1e6c99" stroke="#1e6c99" stroke-width="0.3" text-anchor="start" textLength="30.0" lengthAdjust="spacingAndGlyphs">med</text>
<text x="1578.2" y="331.8" font-size="15.0" fill="#1e6c99" stroke="#1e6c99" stroke-width="0.3" text-anchor="start" textLength="89.7" lengthAdjust="spacingAndGlyphs">Arfa-gadamk</text>
<text x="1505.2" y="344.6" font-size="15.0" fill="#1e6c99" stroke="#1e6c99" stroke-width="0.3" text-anchor="start" textLength="83.9" lengthAdjust="spacingAndGlyphs">Wad ahmed</text>
<text x="1403.4" y="417.5" font-size="15.0" fill="#1e6c99" stroke="#1e6c99" stroke-width="0.3" text-anchor="start" textLength="62.8" lengthAdjust="spacingAndGlyphs">Korokolo</text>
<rect x="1362.4" y="539.7" width="247.5" height="38.3" fill="#fff" stroke="#000" stroke-width="2.1"/>
<circle cx="1388.9" cy="558.6" r="3.5" fill="#fd5050" stroke="#fb4242" stroke-width="1"/>
<text x="1400.2" y="564.8" font-size="18.4" fill="#000" stroke="#000" stroke-width="0.35" text-anchor="start" textLength="83.3" lengthAdjust="spacingAndGlyphs">Assessors</text>
<circle cx="1509.2" cy="558.6" r="3.5" fill="#2776a8" stroke="#1e6c99" stroke-width="1"/>
<text x="1520.6" y="564.8" font-size="18.4" fill="#000" stroke="#000" stroke-width="0.35" text-anchor="start" textLength="76.2" lengthAdjust="spacingAndGlyphs">Products</text>
</g>
</svg>
</body></html>
